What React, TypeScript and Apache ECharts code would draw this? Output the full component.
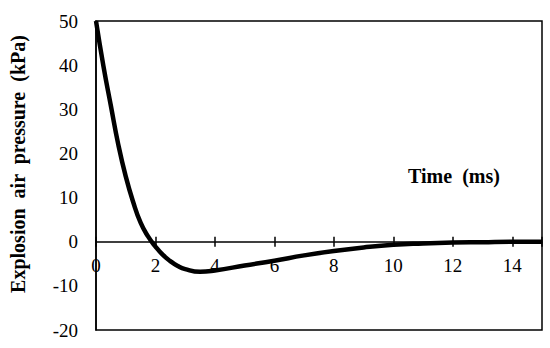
import React, { useEffect, useRef } from "react";
import * as echarts from "echarts";

const timeMs = [0, 0.25, 0.5, 0.75, 1, 1.25, 1.5, 1.75, 2, 2.25, 2.5, 2.75, 3, 3.5, 4, 5, 6, 7, 8, 9, 10, 11, 12, 13, 14, 15];
const pressureKPa = [50, 39.8, 30.8, 22, 14.8, 9, 4.3, 1.2, -1.1, -3.0, -4.4, -5.5, -6.2, -6.8, -6.5, -5.4, -4.3, -3.1, -2.1, -1.3, -0.7, -0.4, -0.2, -0.1, 0, 0];
const xTickLabels = ["0", "2", "4", "6", "8", "10", "12", "14"];
const yTickLabels = ["-20", "-10", "0", "10", "20", "30", "40", "50"];

const FONT = "'Liberation Serif', 'Times New Roman', serif";

const Y_MIN = -20;
const Y_MAX = 50;
const GRID_TOP = 21;
const GRID_BOTTOM = 18;
const HEIGHT = 348;

export default function App() {
  const ref = useRef<HTMLDivElement>(null);
  useEffect(() => {
    if (!ref.current) return;
    const chart = echarts.init(ref.current, null, { renderer: "svg" });
    const data = timeMs.map((t, i) => [t, pressureKPa[i]]);
    const tickStyle = { color: "#000", width: 1.5 };
    const plotH = HEIGHT - GRID_TOP - GRID_BOTTOM;
    const zeroFromTop = ((Y_MAX - 0) / (Y_MAX - Y_MIN)) * plotH;
    const zeroFromBottom = plotH - zeroFromTop;
    chart.setOption({
      animation: false,
      backgroundColor: "#ffffff",
      grid: {
        left: 96,
        right: 8,
        top: GRID_TOP,
        bottom: GRID_BOTTOM,
        show: true,
        containLabel: false,
        outerBoundsMode: "none",
        borderColor: "#000",
        borderWidth: 1.5,
        backgroundColor: "transparent",
      },
      xAxis: [
        {
          type: "value",
          min: 0,
          max: 15,
          interval: 2,
          position: "bottom",
          offset: -zeroFromBottom,
          axisLine: { show: true, onZero: false, lineStyle: { color: "#000", width: 1.5 } },
          axisTick: { show: true, inside: false, length: 5, lineStyle: tickStyle },
          axisLabel: {
            show: true,
            margin: 14,
            fontFamily: FONT,
            fontSize: 19,
            color: "#000",
            formatter: (v: number) => (xTickLabels.includes(String(v)) ? String(v) : ""),
          },
          splitLine: { show: false },
        },
        {
          type: "value",
          min: 0,
          max: 15,
          interval: 2,
          position: "top",
          offset: -zeroFromTop,
          axisLine: { show: false, onZero: false },
          axisTick: { show: true, inside: false, length: 5, lineStyle: tickStyle },
          axisLabel: { show: false },
          splitLine: { show: false },
        },
      ],
      yAxis: {
        type: "value",
        min: Y_MIN,
        max: Y_MAX,
        interval: 10,
        position: "left",
        axisLine: { show: true, onZero: false, lineStyle: { color: "#000", width: 1.5 } },
        axisTick: { show: false },
        axisLabel: {
          margin: 18,
          fontFamily: FONT,
          fontSize: 19,
          color: "#000",
          formatter: (v: number) => (yTickLabels.includes(String(v)) ? String(v) : ""),
        },
        splitLine: { show: false },
      },
      graphic: [
        {
          type: "text",
          x: 17.5,
          y: 164,
          rotation: Math.PI / 2,
          style: {
            text: "Explosion  air  pressure  (kPa)",
            font: `bold 20px ${FONT}`,
            fill: "#000",
            textAlign: "center",
            textVerticalAlign: "middle",
          },
        },
        {
          type: "text",
          x: 454,
          y: 176,
          style: {
            text: "Time  (ms)",
            font: `bold 20px ${FONT}`,
            fill: "#000",
            textAlign: "center",
            textVerticalAlign: "middle",
          },
        },
      ],
      series: [
        {
          type: "line",
          xAxisIndex: 0,
          data,
          smooth: 0.5,
          symbol: "none",
          lineStyle: { color: "#000", width: 4.5 },
          clip: true,
        },
      ],
    });
    return () => chart.dispose();
  }, []);
  return (
    <div
      ref={ref}
      style={{ position: "fixed", left: 0, top: 0, width: 550, height: 348 }}
    />
  );
}
